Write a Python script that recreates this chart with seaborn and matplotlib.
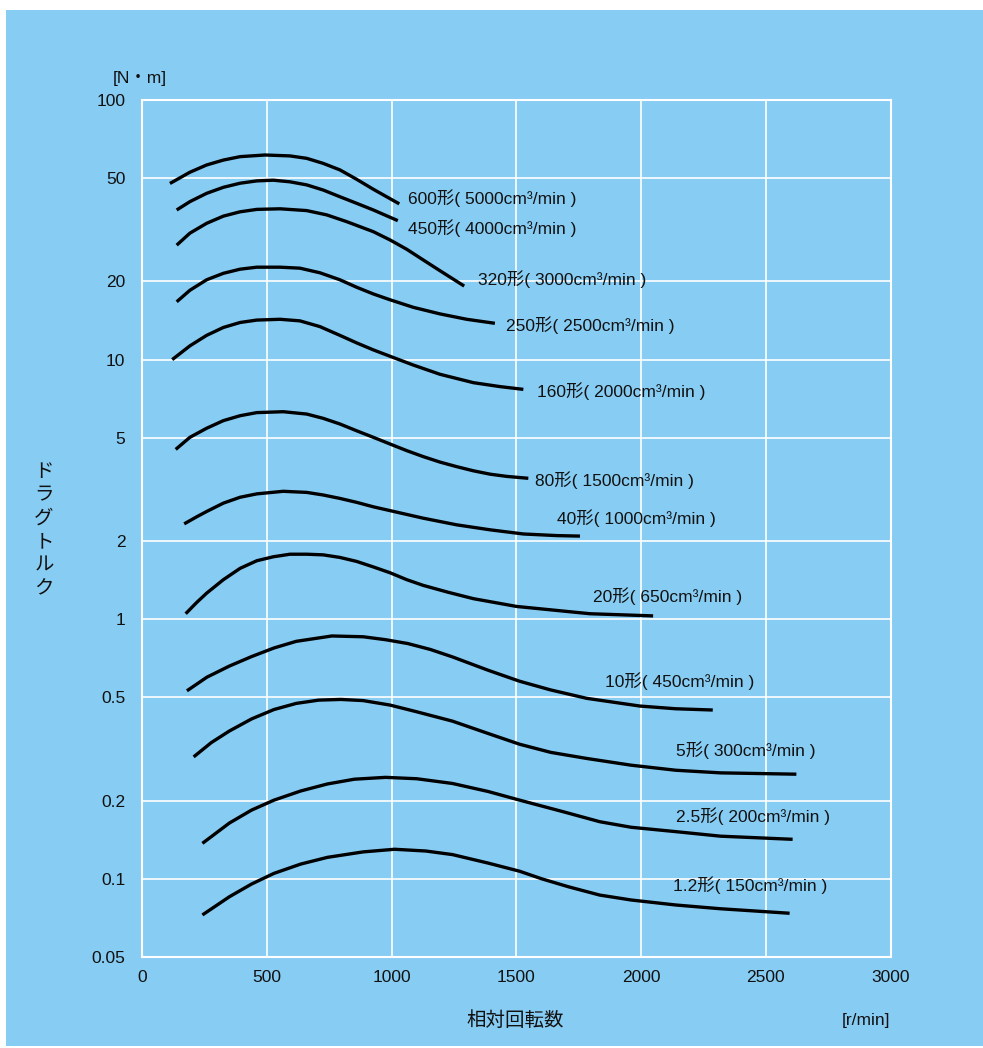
import numpy as np
import pandas as pd
import matplotlib
matplotlib.use("Agg")
import matplotlib.pyplot as plt
from matplotlib.patches import Rectangle
import seaborn as sns

# Drag torque vs. relative speed, one curve per model size
models = ["600形( 5000cm³/min )", "450形( 4000cm³/min )", "320形( 3000cm³/min )",
          "250形( 2500cm³/min )", "160形( 2000cm³/min )", "80形( 1500cm³/min )",
          "40形( 1000cm³/min )", "20形( 650cm³/min )", "10形( 450cm³/min )",
          "5形( 300cm³/min )", "2.5形( 200cm³/min )", "1.2形( 150cm³/min )"]

speed_600 = [112, 192, 259, 326, 393, 493, 593, 660, 726, 793, 860, 927, 1031]
torque_600 = [47.7, 52.7, 56.2, 58.7, 60.5, 61.4, 60.9, 59.6, 57.0, 53.8, 49.5, 45.3, 39.8]

speed_450 = [139, 192, 259, 326, 393, 460, 526, 593, 660, 726, 793, 860, 927, 1025]
torque_450 = [37.7, 40.6, 43.7, 46.1, 47.8, 48.8, 49.1, 48.4, 47.1, 45.0, 42.4, 40.0, 37.7, 34.3]

speed_320 = [139, 192, 259, 326, 393, 460, 553, 660, 740, 820, 927, 994, 1061, 1127, 1194, 1291]
torque_320 = [27.6, 30.7, 33.5, 35.7, 37.1, 37.9, 38.1, 37.5, 36.1, 34.0, 31.1, 28.9, 26.6, 24.2,
              22.0, 19.2]

speed_250 = [139, 192, 259, 326, 393, 460, 553, 633, 713, 793, 860, 927, 994, 1087, 1194, 1301,
             1414]
torque_250 = [16.7, 18.5, 20.3, 21.5, 22.3, 22.7, 22.7, 22.5, 21.6, 20.3, 19.0, 17.9, 17.0, 15.9,
              15.0, 14.3, 13.8]

speed_160 = [121, 192, 259, 326, 393, 460, 553, 633, 713, 793, 860, 927, 994, 1087, 1194, 1328,
             1435, 1528]
torque_160 = [10.0, 11.3, 12.4, 13.3, 13.9, 14.2, 14.3, 14.1, 13.4, 12.4, 11.6, 10.9, 10.3, 9.53,
              8.78, 8.15, 7.87, 7.68]

speed_80 = [135, 192, 259, 326, 393, 460, 566, 660, 726, 793, 860, 927, 994, 1061, 1127, 1194,
            1261, 1328, 1395, 1461, 1548]
torque_80 = [4.51, 5.02, 5.44, 5.82, 6.08, 6.25, 6.30, 6.17, 5.94, 5.65, 5.32, 5.02, 4.73, 4.46,
             4.23, 4.03, 3.87, 3.73, 3.62, 3.55, 3.49]

speed_40 = [169, 219, 259, 326, 393, 460, 566, 660, 726, 793, 860, 927, 994, 1127, 1261, 1395,
            1528, 1661, 1755]
torque_40 = [2.33, 2.48, 2.60, 2.80, 2.95, 3.04, 3.11, 3.08, 3.01, 2.92, 2.82, 2.71, 2.62, 2.45,
             2.31, 2.21, 2.13, 2.10, 2.09]

speed_20 = [175, 219, 259, 326, 393, 460, 526, 593, 660, 726, 793, 860, 927, 994, 1061, 1127,
            1227, 1328, 1501, 1795, 2048]
torque_20 = [1.05, 1.16, 1.26, 1.42, 1.57, 1.68, 1.74, 1.78, 1.78, 1.77, 1.73, 1.67, 1.59, 1.51,
             1.42, 1.35, 1.27, 1.20, 1.12, 1.05, 1.03]

speed_10 = [180, 260, 350, 439, 529, 618, 761, 886, 976, 1065, 1155, 1244, 1387, 1513, 1638,
            1781, 1995, 2139, 2287]
torque_10 = [0.530, 0.598, 0.660, 0.718, 0.775, 0.822, 0.862, 0.856, 0.834, 0.806, 0.765, 0.716,
             0.636, 0.577, 0.534, 0.496, 0.463, 0.452, 0.447]

speed_5 = [207, 278, 350, 439, 529, 618, 708, 797, 886, 994, 1101, 1244, 1387, 1513, 1638, 1781,
           1960, 2139, 2318, 2622]
torque_5 = [0.295, 0.335, 0.371, 0.413, 0.449, 0.474, 0.488, 0.491, 0.486, 0.467, 0.440, 0.405,
            0.363, 0.330, 0.307, 0.291, 0.274, 0.262, 0.256, 0.253]

speed_2_5 = [242, 350, 439, 529, 636, 743, 851, 976, 1101, 1244, 1387, 1513, 1691, 1834, 1960,
             2139, 2318, 2607]
torque_2_5 = [0.137, 0.164, 0.184, 0.201, 0.218, 0.232, 0.242, 0.246, 0.243, 0.233, 0.217, 0.201,
              0.181, 0.166, 0.158, 0.152, 0.146, 0.142]

speed_1_2 = [242, 350, 439, 529, 636, 743, 886, 1012, 1137, 1244, 1387, 1513, 1602, 1709, 1834,
             1960, 2139, 2318, 2595]
torque_1_2 = [0.0726, 0.0853, 0.0955, 0.105, 0.114, 0.121, 0.127, 0.130, 0.128, 0.124, 0.115,
              0.107, 0.100, 0.0932, 0.0866, 0.0829, 0.0793, 0.0767, 0.0737]

speeds = [speed_600, speed_450, speed_320, speed_250, speed_160, speed_80,
          speed_40, speed_20, speed_10, speed_5, speed_2_5, speed_1_2]
torques = [torque_600, torque_450, torque_320, torque_250, torque_160, torque_80,
           torque_40, torque_20, torque_10, torque_5, torque_2_5, torque_1_2]

# Anchor point (left edge) of each curve label
label_x = [1066, 1066, 1346, 1459, 1583, 1575, 1663, 1807, 1855, 2140, 2140, 2128]
label_y = [41.9, 32.1, 20.4, 13.6, 7.57, 3.44, 2.45, 1.23, 0.578, 0.313, 0.175, 0.0946]

x_ticks = [0, 500, 1000, 1500, 2000, 2500, 3000]
y_ticks = [0.05, 0.1, 0.2, 0.5, 1, 2, 5, 10, 20, 50, 100]
y_tick_labels = ["0.05", "0.1", "0.2", "0.5", "1", "2", "5", "10", "20", "50", "100"]

BG = "#87CCF3"

sns.set_theme(style="white")
plt.rcParams["font.family"] = ["Liberation Sans", "Noto Sans CJK JP", "DejaVu Sans"]

df = pd.concat(
    [pd.DataFrame({"model": m, "speed": s, "torque": t})
     for m, s, t in zip(models, speeds, torques)],
    ignore_index=True,
)

fig = plt.figure(figsize=(9.83, 10.48), dpi=100, facecolor="white")
fig.patches.append(Rectangle((6 / 983, 2 / 1048), 1, (1048 - 12) / 1048,
                             transform=fig.transFigure, facecolor=BG,
                             edgecolor="none", zorder=-1))
ax = fig.add_axes([142 / 983, 1 - 957 / 1048, 748.7 / 983, 857 / 1048])
ax.set_facecolor(BG)

sns.lineplot(data=df, x="speed", y="torque", units="model", estimator=None,
             sort=False, color="black", linewidth=2.4, ax=ax, legend=False)
for line in ax.get_lines():
    line.set_solid_joinstyle("round")
    line.set_solid_capstyle("butt")

ax.set_yscale("log")
ax.set_xlim(0, 3000)
ax.set_ylim(0.05, 100)
ax.set_xticks(x_ticks)
ax.set_xticklabels([str(v) for v in x_ticks])
ax.set_yticks(y_ticks)
ax.set_yticklabels(y_tick_labels)
ax.minorticks_off()
ax.grid(True, color="white", linewidth=1.2)
ax.set_axisbelow(True)
for sp in ax.spines.values():
    sp.set_color("white")
    sp.set_linewidth(1.5)
ax.tick_params(axis="both", length=0, labelsize=12.5, colors="#111111")
ax.tick_params(axis="y", pad=12)
ax.tick_params(axis="x", pad=9)
ax.set_xlabel("")
ax.set_ylabel("")

for name, lx, ly in zip(models, label_x, label_y):
    ax.text(lx, ly, name, fontsize=12.5, color="#111111", ha="left", va="center")

fig.text(515 / 983, 1 - 1020 / 1048, "相対回転数", fontsize=14, color="#111111",
         ha="center", va="center", family=["Noto Sans CJK JP"])
fig.text(890 / 983, 1 - 1021 / 1048, "[r/min]", fontsize=12.5, color="#111111",
         ha="right", va="center")
fig.text(113 / 983, 1 - 78 / 1048, "[N・m]", fontsize=12.5, color="#111111",
         ha="left", va="center", family=["Liberation Sans", "Noto Sans CJK JP"])
fig.text(44 / 983, 1 - 530 / 1048, "\n".join("ドラグトルク"), fontsize=14,
         color="#111111", ha="center", va="center", linespacing=1.15,
         family=["Noto Sans CJK JP"])

fig.savefig("out.png", dpi=100, facecolor="white")
